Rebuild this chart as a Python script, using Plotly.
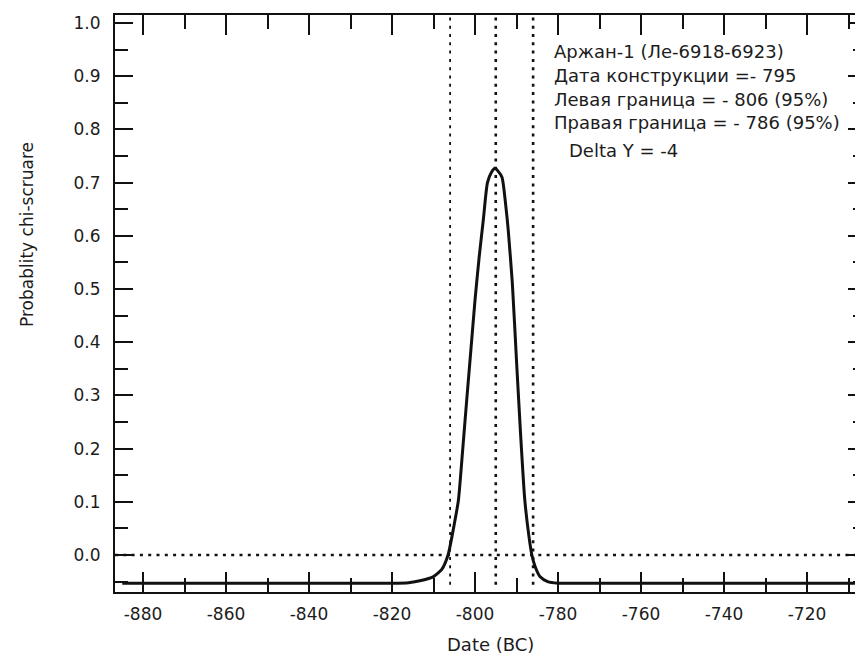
import plotly.graph_objects as go

# ---- data ----
date_bc = [-885, -830, -820, -816, -813, -810.1, -808, -806.5, -805, -804, -803, -802, -801,
           -800, -799, -798, -797, -796, -795.2, -794.5, -793.5, -792.5, -792, -791, -790,
           -789, -788, -787, -786.3, -785.5, -784.3, -782.5, -780, -775, -708]
prob = [-0.053, -0.053, -0.053, -0.052, -0.048, -0.041, -0.027, 0.0, 0.058, 0.103, 0.195, 0.291, 0.385,
        0.479, 0.56, 0.63, 0.70, 0.72, 0.727, 0.722, 0.71, 0.65, 0.611, 0.51, 0.365,
        0.225, 0.103, 0.035, 0.0, -0.022, -0.041, -0.05, -0.053, -0.053, -0.053]

ref_dates = [-806, -795, -786]          # left bound, construction date, right bound
ref_widths = [1.8, 2.6, 2.6]
zero_level = 0.0
line_floor = -0.056

x_ticks = [-880, -860, -840, -820, -800, -780, -760, -740, -720]
y_ticks = [0.0, 0.1, 0.2, 0.3, 0.4, 0.5, 0.6, 0.7, 0.8, 0.9, 1.0]

info_lines = ["Аржан-1 (Ле-6918-6923)",
              "Дата конструкции =- 795",
              "Левая граница = - 806 (95%)",
              "Правая граница = - 786 (95%)",
              "Delta Y = -4"]

# ---- layout geometry (pixels, measured in the 863x656 window) ----
OFF = 8                      # the page body margin shifts the figure by this much
FW, FH = 863 - OFF, 656 - OFF
L, R, T, B = 115 - OFF, 863 - OFF, 15 - OFF, 592 - OFF
PW, PH = R - L, B - T
x_range = [-886.75, -706.51]
y_range = [-0.0695, 1.015]


def px(xp):
    return (xp - OFF - L) / PW


def py(yp):
    return 1 - (yp - OFF - T) / PH


FONT = "DejaVu Sans"
INK = "#1c1c1c"

fig = go.Figure()
fig.add_trace(go.Scatter(x=date_bc, y=prob, mode="lines",
                         line=dict(color="#111111", width=3, shape="spline", smoothing=0.6),
                         hoverinfo="skip", showlegend=False))
# invisible trace to activate the right-hand tick axis
fig.add_trace(go.Scatter(x=date_bc[:1], y=prob[:1], mode="markers", marker=dict(opacity=0),
                         yaxis="y2", hoverinfo="skip", showlegend=False))

for d, w in zip(ref_dates, ref_widths):
    fig.add_shape(type="line", xref="x", yref="y", x0=d, x1=d, y0=line_floor, y1=y_range[1],
                  line=dict(color="#111111", width=w, dash="3px,5.3px"))
fig.add_shape(type="line", xref="paper", yref="y", x0=0, x1=1, y0=zero_level, y1=zero_level,
              line=dict(color="#111111", width=2.6, dash="3px,5.3px"))

ypos = [51, 75, 99, 123, 150]
xpos = [552, 552, 552, 552, 567]
for t, xx, yy in zip(info_lines, xpos, ypos):
    fig.add_annotation(text=t, xref="paper", yref="paper", x=px(xx), y=py(yy),
                       xanchor="left", yanchor="middle", showarrow=False,
                       font=dict(family=FONT, size=18, color=INK))

fig.add_annotation(text="Date (BC)", xref="paper", yref="paper", x=px(490), y=py(645),
                   xanchor="center", yanchor="middle", showarrow=False,
                   font=dict(family=FONT, size=18, color=INK))
fig.add_annotation(text="Probablity chi-scruare", xref="paper", yref="paper", x=px(27), y=py(235),
                   xanchor="center", yanchor="middle", showarrow=False, textangle=-90,
                   font=dict(family=FONT, size=17, color=INK))

fig.update_layout(
    width=FW, height=FH,
    margin=dict(l=L, r=FW - R, t=T, b=FH - B, pad=0),
    paper_bgcolor="white", plot_bgcolor="white",
    showlegend=False,
    xaxis=dict(range=x_range, tickmode="array", tickvals=x_ticks,
               ticktext=[str(v) for v in x_ticks],
               ticks="inside", ticklen=20, tickwidth=2, tickcolor="#111111",
               minor=dict(dtick=10, tick0=-880, ticks="inside", ticklen=14, tickwidth=2,
                          tickcolor="#111111"),
               showline=True, linewidth=2, linecolor="#111111", mirror="ticks",
               showgrid=False, zeroline=False, ticklabelstandoff=6,
               tickfont=dict(family=FONT, size=17, color=INK)),
    yaxis=dict(range=y_range, tickmode="array", tickvals=y_ticks,
               ticktext=[f"{v:.1f}" for v in y_ticks],
               ticks="inside", ticklen=18, tickwidth=2, tickcolor="#111111",
               minor=dict(dtick=0.05, tick0=0, ticks="inside", ticklen=13, tickwidth=2,
                          tickcolor="#111111"),
               showline=True, linewidth=2, linecolor="#111111", mirror=False,
               showgrid=False, zeroline=False, ticklabelstandoff=9,
               tickfont=dict(family=FONT, size=17, color=INK)),
    yaxis2=dict(range=y_range, overlaying="y", side="right", tickmode="array", tickvals=y_ticks,
                showticklabels=False, ticks="inside", ticklen=15, tickwidth=2, tickcolor="#111111",
                minor=dict(dtick=0.05, tick0=0, ticks="inside", ticklen=10, tickwidth=2,
                           tickcolor="#111111"),
                showline=False, showgrid=False, zeroline=False),
)

fig.write_html("out.html")
